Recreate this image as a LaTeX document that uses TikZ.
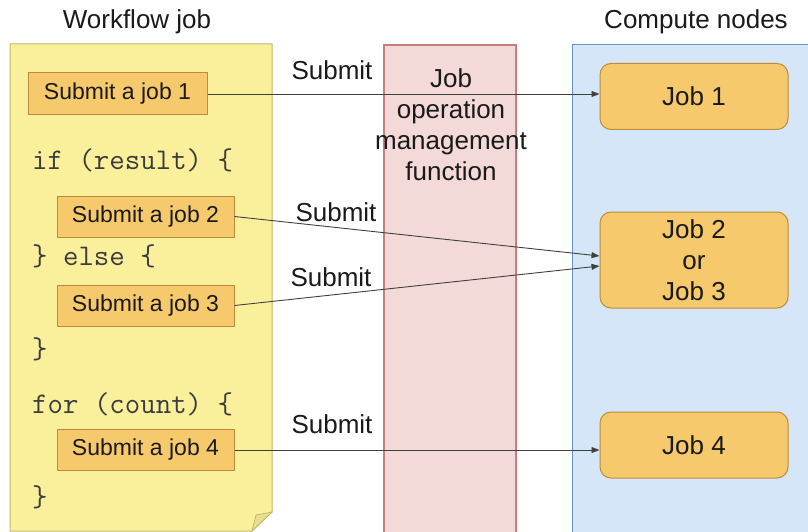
\documentclass[tikz,border=0pt]{standalone}
\usepackage{fontspec}
\setmainfont{Liberation Sans}
\usetikzlibrary{arrows.meta}
\definecolor{noteFill}{HTML}{FAF09C}
\definecolor{noteLine}{HTML}{C2B868}
\definecolor{boxFill}{HTML}{F6C96C}
\definecolor{boxLine}{HTML}{BE8B3A}
\definecolor{pinkFill}{HTML}{F3D9D8}
\definecolor{pinkLine}{HTML}{C47F7E}
\definecolor{blueFill}{HTML}{D5E6F8}
\definecolor{blueLine}{HTML}{6E91C4}
\definecolor{txt}{HTML}{1A1A1A}
\tikzset{
  sansT/.style={font=\fontsize{26}{31}\selectfont, text=txt},
  smallT/.style={font=\fontsize{23}{28}\selectfont, text=txt},
  codeT/.style={font=\ttfamily\fontsize{30}{35}\selectfont, text=txt!85, anchor=base west, inner sep=0pt},
  subbox/.style={smallT, draw=boxLine, fill=boxFill, line width=1pt, inner sep=0pt},
  jobbox/.style={sansT, draw=boxLine, fill=boxFill, line width=1pt, rounded corners=11pt, inner sep=0pt, align=center},
  conn/.style={draw=black!75, line width=0.9pt, -{Triangle[length=8pt,width=6pt]}},
}
\begin{document}
\begin{tikzpicture}[x=1pt,y=-1pt]
\useasboundingbox (0,0) rectangle (808,532);
\begin{scope}
\clip (0,0) rectangle (808,532);
% panels
\fill[blueFill] (572,45) rectangle (815,540);
\draw[blueLine, line width=1pt] (815,45) -- (572,45) -- (572,540);
\draw[pinkLine, fill=pinkFill, line width=1.2pt] (384,45) rectangle (516,540);
% note
\draw[noteLine, fill=noteFill, line width=1pt] (10,44) -- (272,44) -- (272,512) -- (252,531) -- (10,531) -- cycle;
\draw[noteLine, fill=noteFill!70!noteLine, line width=0.8pt] (252,531) -- (256,515) -- (272,512) -- cycle;
\end{scope}
% titles
\node[sansT] (t1) at (137,22) {Workflow job};
\node[sansT] (t2) at (696,22) {Compute nodes};
% pink text
\node[sansT, align=center] (jom) at (451,125) {Job\\operation\\management\\function};
% code
\node[codeT] (c1) at (32,169) {if (result) \{};
\node[codeT] (c2) at (32,265) {\} else \{};
\node[codeT] (c3) at (32,358) {\}};
\node[codeT] (c4) at (32,413) {for (count) \{};
\node[codeT] (c5) at (32,506) {\}};
% submit boxes
\node[subbox, minimum width=179pt, minimum height=42pt] (s1) at (117.5,94) {Submit a job 1};
\node[subbox, minimum width=177pt, minimum height=41pt] (s2) at (145.5,216.5) {Submit a job 2};
\node[subbox, minimum width=177pt, minimum height=41pt] (s3) at (145.5,305.5) {Submit a job 3};
\node[subbox, minimum width=177pt, minimum height=41pt] (s4) at (145.5,450) {Submit a job 4};
% job boxes
\node[jobbox, minimum width=188pt, minimum height=66pt] (j1) at (694,96.5) {Job 1};
\node[jobbox, minimum width=188pt, minimum height=96pt] (j23) at (694,260) {Job 2\\or\\Job 3};
\node[jobbox, minimum width=188pt, minimum height=66pt] (j4) at (694,445) {Job 4};
% connectors
\draw[conn] (s1.east) -- (s1.east -| j1.west);
\draw[conn] (s2.east) -- ([yshift=4pt]j23.west);
\draw[conn] (s3.east) -- ([yshift=-6pt]j23.west);
\draw[conn] (s4.east) -- (s4.east -| j4.west);
% labels
\node[sansT] (l1) at (332,70) {Submit};
\node[sansT] (l2) at (336,212) {Submit};
\node[sansT] (l3) at (331,277) {Submit};
\node[sansT] (l4) at (332,424) {Submit};
\end{tikzpicture}
\end{document}
